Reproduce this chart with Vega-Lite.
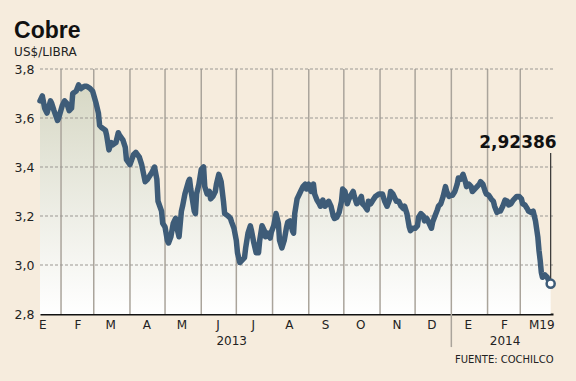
{
  "$schema": "https://vega.github.io/schema/vega-lite/v6.json",
  "width": 513,
  "height": 245,
  "autosize": {"type": "none"},
  "padding": {"left": 40, "top": 69, "right": 23, "bottom": 67},
  "background": "#f6ecdd",
  "title": {
    "text": "Cobre",
    "subtitle": "US$/LIBRA",
    "anchor": "start",
    "frame": "bounds",
    "font": "Liberation Sans",
    "fontSize": 23,
    "fontWeight": "bold",
    "color": "#111111",
    "subtitleFont": "DejaVu Sans",
    "subtitleFontSize": 12,
    "subtitleColor": "#222222",
    "subtitlePadding": 4,
    "offset": 5
  },
  "config": {
    "view": {"stroke": null},
    "font": "DejaVu Sans",
    "axis": {"labelOverlap": false, "labelFlush": false, "labelBound": false}
  },
  "datasets": {
    "precios": [
      {"fecha": "2013-01-14", "precio": 3.67}, {"fecha": "2013-01-16", "precio": 3.69}, {"fecha": "2013-01-18", "precio": 3.64},
      {"fecha": "2013-01-20", "precio": 3.62}, {"fecha": "2013-01-23", "precio": 3.67}, {"fecha": "2013-01-24", "precio": 3.66},
      {"fecha": "2013-01-26", "precio": 3.63}, {"fecha": "2013-01-29", "precio": 3.59}, {"fecha": "2013-01-30", "precio": 3.60},
      {"fecha": "2013-02-02", "precio": 3.65}, {"fecha": "2013-02-04", "precio": 3.67}, {"fecha": "2013-02-06", "precio": 3.66},
      {"fecha": "2013-02-08", "precio": 3.63}, {"fecha": "2013-02-10", "precio": 3.64}, {"fecha": "2013-02-11", "precio": 3.70},
      {"fecha": "2013-02-14", "precio": 3.71}, {"fecha": "2013-02-16", "precio": 3.735}, {"fecha": "2013-02-18", "precio": 3.72},
      {"fecha": "2013-02-21", "precio": 3.73}, {"fecha": "2013-02-23", "precio": 3.73}, {"fecha": "2013-02-26", "precio": 3.72},
      {"fecha": "2013-02-28", "precio": 3.71}, {"fecha": "2013-03-03", "precio": 3.66}, {"fecha": "2013-03-05", "precio": 3.62},
      {"fecha": "2013-03-06", "precio": 3.57}, {"fecha": "2013-03-08", "precio": 3.56}, {"fecha": "2013-03-11", "precio": 3.55},
      {"fecha": "2013-03-12", "precio": 3.53}, {"fecha": "2013-03-14", "precio": 3.47}, {"fecha": "2013-03-16", "precio": 3.50},
      {"fecha": "2013-03-17", "precio": 3.49}, {"fecha": "2013-03-20", "precio": 3.50}, {"fecha": "2013-03-22", "precio": 3.54},
      {"fecha": "2013-03-23", "precio": 3.53}, {"fecha": "2013-03-26", "precio": 3.51}, {"fecha": "2013-03-28", "precio": 3.48},
      {"fecha": "2013-03-29", "precio": 3.43}, {"fecha": "2013-04-01", "precio": 3.41}, {"fecha": "2013-04-04", "precio": 3.45},
      {"fecha": "2013-04-06", "precio": 3.46}, {"fecha": "2013-04-09", "precio": 3.44}, {"fecha": "2013-04-11", "precio": 3.41},
      {"fecha": "2013-04-14", "precio": 3.34}, {"fecha": "2013-04-16", "precio": 3.35}, {"fecha": "2013-04-20", "precio": 3.38},
      {"fecha": "2013-04-22", "precio": 3.40}, {"fecha": "2013-04-24", "precio": 3.35}, {"fecha": "2013-04-25", "precio": 3.26},
      {"fecha": "2013-04-28", "precio": 3.22}, {"fecha": "2013-04-29", "precio": 3.17}, {"fecha": "2013-05-01", "precio": 3.155},
      {"fecha": "2013-05-03", "precio": 3.10}, {"fecha": "2013-05-04", "precio": 3.09}, {"fecha": "2013-05-06", "precio": 3.115},
      {"fecha": "2013-05-08", "precio": 3.17}, {"fecha": "2013-05-10", "precio": 3.19}, {"fecha": "2013-05-11", "precio": 3.155},
      {"fecha": "2013-05-13", "precio": 3.115}, {"fecha": "2013-05-15", "precio": 3.22}, {"fecha": "2013-05-16", "precio": 3.24},
      {"fecha": "2013-05-18", "precio": 3.29}, {"fecha": "2013-05-21", "precio": 3.34}, {"fecha": "2013-05-22", "precio": 3.35},
      {"fecha": "2013-05-23", "precio": 3.31}, {"fecha": "2013-05-26", "precio": 3.22}, {"fecha": "2013-05-27", "precio": 3.21},
      {"fecha": "2013-05-28", "precio": 3.29}, {"fecha": "2013-05-30", "precio": 3.33}, {"fecha": "2013-06-01", "precio": 3.39},
      {"fecha": "2013-06-03", "precio": 3.40}, {"fecha": "2013-06-04", "precio": 3.32}, {"fecha": "2013-06-06", "precio": 3.29},
      {"fecha": "2013-06-08", "precio": 3.30}, {"fecha": "2013-06-09", "precio": 3.27}, {"fecha": "2013-06-11", "precio": 3.28},
      {"fecha": "2013-06-13", "precio": 3.30}, {"fecha": "2013-06-14", "precio": 3.33}, {"fecha": "2013-06-16", "precio": 3.37},
      {"fecha": "2013-06-18", "precio": 3.34}, {"fecha": "2013-06-20", "precio": 3.26}, {"fecha": "2013-06-21", "precio": 3.21},
      {"fecha": "2013-06-24", "precio": 3.20}, {"fecha": "2013-06-26", "precio": 3.19}, {"fecha": "2013-06-27", "precio": 3.175},
      {"fecha": "2013-06-29", "precio": 3.15}, {"fecha": "2013-07-01", "precio": 3.10}, {"fecha": "2013-07-02", "precio": 3.05},
      {"fecha": "2013-07-04", "precio": 3.01}, {"fecha": "2013-07-06", "precio": 3.02}, {"fecha": "2013-07-08", "precio": 3.03},
      {"fecha": "2013-07-09", "precio": 3.07}, {"fecha": "2013-07-11", "precio": 3.13}, {"fecha": "2013-07-13", "precio": 3.16},
      {"fecha": "2013-07-14", "precio": 3.14}, {"fecha": "2013-07-16", "precio": 3.09}, {"fecha": "2013-07-18", "precio": 3.05},
      {"fecha": "2013-07-20", "precio": 3.05}, {"fecha": "2013-07-21", "precio": 3.10}, {"fecha": "2013-07-23", "precio": 3.16},
      {"fecha": "2013-07-25", "precio": 3.14}, {"fecha": "2013-07-26", "precio": 3.115}, {"fecha": "2013-07-28", "precio": 3.13},
      {"fecha": "2013-07-30", "precio": 3.11}, {"fecha": "2013-07-31", "precio": 3.135}, {"fecha": "2013-08-02", "precio": 3.16},
      {"fecha": "2013-08-04", "precio": 3.21}, {"fecha": "2013-08-06", "precio": 3.17}, {"fecha": "2013-08-07", "precio": 3.10},
      {"fecha": "2013-08-09", "precio": 3.07}, {"fecha": "2013-08-11", "precio": 3.10}, {"fecha": "2013-08-13", "precio": 3.155},
      {"fecha": "2013-08-14", "precio": 3.175}, {"fecha": "2013-08-16", "precio": 3.18}, {"fecha": "2013-08-18", "precio": 3.14},
      {"fecha": "2013-08-19", "precio": 3.13}, {"fecha": "2013-08-20", "precio": 3.21}, {"fecha": "2013-08-22", "precio": 3.27},
      {"fecha": "2013-08-24", "precio": 3.29}, {"fecha": "2013-08-25", "precio": 3.30}, {"fecha": "2013-08-27", "precio": 3.32},
      {"fecha": "2013-08-29", "precio": 3.33}, {"fecha": "2013-08-30", "precio": 3.31}, {"fecha": "2013-09-01", "precio": 3.33},
      {"fecha": "2013-09-03", "precio": 3.30}, {"fecha": "2013-09-05", "precio": 3.33}, {"fecha": "2013-09-06", "precio": 3.29},
      {"fecha": "2013-09-08", "precio": 3.265}, {"fecha": "2013-09-10", "precio": 3.25}, {"fecha": "2013-09-11", "precio": 3.24},
      {"fecha": "2013-09-13", "precio": 3.265}, {"fecha": "2013-09-15", "precio": 3.24}, {"fecha": "2013-09-17", "precio": 3.25},
      {"fecha": "2013-09-18", "precio": 3.26}, {"fecha": "2013-09-20", "precio": 3.24}, {"fecha": "2013-09-22", "precio": 3.20},
      {"fecha": "2013-09-23", "precio": 3.19}, {"fecha": "2013-09-25", "precio": 3.195}, {"fecha": "2013-09-27", "precio": 3.215},
      {"fecha": "2013-09-29", "precio": 3.26}, {"fecha": "2013-09-30", "precio": 3.31}, {"fecha": "2013-10-02", "precio": 3.30},
      {"fecha": "2013-10-04", "precio": 3.25}, {"fecha": "2013-10-05", "precio": 3.265}, {"fecha": "2013-10-07", "precio": 3.285},
      {"fecha": "2013-10-09", "precio": 3.30}, {"fecha": "2013-10-10", "precio": 3.28}, {"fecha": "2013-10-12", "precio": 3.25},
      {"fecha": "2013-10-14", "precio": 3.26}, {"fecha": "2013-10-16", "precio": 3.28}, {"fecha": "2013-10-17", "precio": 3.25},
      {"fecha": "2013-10-19", "precio": 3.24}, {"fecha": "2013-10-21", "precio": 3.225}, {"fecha": "2013-10-22", "precio": 3.26},
      {"fecha": "2013-10-24", "precio": 3.25}, {"fecha": "2013-10-26", "precio": 3.265}, {"fecha": "2013-10-28", "precio": 3.28},
      {"fecha": "2013-10-31", "precio": 3.29}, {"fecha": "2013-11-03", "precio": 3.29}, {"fecha": "2013-11-05", "precio": 3.26},
      {"fecha": "2013-11-07", "precio": 3.24}, {"fecha": "2013-11-09", "precio": 3.265}, {"fecha": "2013-11-10", "precio": 3.30},
      {"fecha": "2013-11-12", "precio": 3.29}, {"fecha": "2013-11-14", "precio": 3.27}, {"fecha": "2013-11-15", "precio": 3.26},
      {"fecha": "2013-11-17", "precio": 3.26}, {"fecha": "2013-11-19", "precio": 3.24}, {"fecha": "2013-11-21", "precio": 3.23},
      {"fecha": "2013-11-22", "precio": 3.24}, {"fecha": "2013-11-24", "precio": 3.21}, {"fecha": "2013-11-26", "precio": 3.155},
      {"fecha": "2013-11-27", "precio": 3.14}, {"fecha": "2013-11-29", "precio": 3.15}, {"fecha": "2013-12-01", "precio": 3.15},
      {"fecha": "2013-12-03", "precio": 3.16}, {"fecha": "2013-12-04", "precio": 3.195}, {"fecha": "2013-12-06", "precio": 3.21},
      {"fecha": "2013-12-08", "precio": 3.20}, {"fecha": "2013-12-09", "precio": 3.18}, {"fecha": "2013-12-11", "precio": 3.19},
      {"fecha": "2013-12-13", "precio": 3.17}, {"fecha": "2013-12-15", "precio": 3.15}, {"fecha": "2013-12-16", "precio": 3.175},
      {"fecha": "2013-12-18", "precio": 3.20}, {"fecha": "2013-12-20", "precio": 3.225}, {"fecha": "2013-12-21", "precio": 3.24},
      {"fecha": "2013-12-23", "precio": 3.25}, {"fecha": "2013-12-25", "precio": 3.28}, {"fecha": "2013-12-27", "precio": 3.32},
      {"fecha": "2013-12-28", "precio": 3.30}, {"fecha": "2013-12-30", "precio": 3.28}, {"fecha": "2014-01-01", "precio": 3.285},
      {"fecha": "2014-01-02", "precio": 3.285}, {"fecha": "2014-01-04", "precio": 3.30}, {"fecha": "2014-01-06", "precio": 3.33},
      {"fecha": "2014-01-07", "precio": 3.355}, {"fecha": "2014-01-09", "precio": 3.35}, {"fecha": "2014-01-11", "precio": 3.37},
      {"fecha": "2014-01-13", "precio": 3.34}, {"fecha": "2014-01-14", "precio": 3.32}, {"fecha": "2014-01-16", "precio": 3.33},
      {"fecha": "2014-01-18", "precio": 3.32}, {"fecha": "2014-01-19", "precio": 3.30}, {"fecha": "2014-01-21", "precio": 3.31},
      {"fecha": "2014-01-23", "precio": 3.32}, {"fecha": "2014-01-25", "precio": 3.33}, {"fecha": "2014-01-26", "precio": 3.34},
      {"fecha": "2014-01-28", "precio": 3.33}, {"fecha": "2014-01-30", "precio": 3.30}, {"fecha": "2014-01-31", "precio": 3.29},
      {"fecha": "2014-02-02", "precio": 3.285}, {"fecha": "2014-02-04", "precio": 3.27}, {"fecha": "2014-02-06", "precio": 3.26},
      {"fecha": "2014-02-07", "precio": 3.24}, {"fecha": "2014-02-09", "precio": 3.215}, {"fecha": "2014-02-11", "precio": 3.22},
      {"fecha": "2014-02-12", "precio": 3.22}, {"fecha": "2014-02-14", "precio": 3.24}, {"fecha": "2014-02-16", "precio": 3.265},
      {"fecha": "2014-02-18", "precio": 3.26}, {"fecha": "2014-02-19", "precio": 3.245}, {"fecha": "2014-02-21", "precio": 3.25},
      {"fecha": "2014-02-23", "precio": 3.265}, {"fecha": "2014-02-24", "precio": 3.27}, {"fecha": "2014-02-26", "precio": 3.28},
      {"fecha": "2014-02-28", "precio": 3.28}, {"fecha": "2014-03-02", "precio": 3.27}, {"fecha": "2014-03-03", "precio": 3.25},
      {"fecha": "2014-03-05", "precio": 3.245}, {"fecha": "2014-03-07", "precio": 3.23}, {"fecha": "2014-03-08", "precio": 3.22},
      {"fecha": "2014-03-10", "precio": 3.215}, {"fecha": "2014-03-12", "precio": 3.22}, {"fecha": "2014-03-13", "precio": 3.20},
      {"fecha": "2014-03-14", "precio": 3.18}, {"fecha": "2014-03-16", "precio": 3.115}, {"fecha": "2014-03-17", "precio": 3.06},
      {"fecha": "2014-03-18", "precio": 3.02}, {"fecha": "2014-03-19", "precio": 2.97}, {"fecha": "2014-03-20", "precio": 2.95},
      {"fecha": "2014-03-22", "precio": 2.96}, {"fecha": "2014-03-24", "precio": 2.95}, {"fecha": "2014-03-26", "precio": 2.93},
      {"fecha": "2014-03-27", "precio": 2.92386}
    ],
    "meses": [
      {"fecha": "2013-02-01"}, {"fecha": "2013-03-01"}, {"fecha": "2013-04-01"}, {"fecha": "2013-05-01"},
      {"fecha": "2013-06-01"}, {"fecha": "2013-07-01"}, {"fecha": "2013-08-01"}, {"fecha": "2013-09-01"},
      {"fecha": "2013-10-01"}, {"fecha": "2013-11-01"}, {"fecha": "2013-12-01"}, {"fecha": "2014-01-01"},
      {"fecha": "2014-02-01"}, {"fecha": "2014-03-01"}
    ],
    "niveles": [{"valor": 3.0}, {"valor": 3.2}, {"valor": 3.4}, {"valor": 3.6}, {"valor": 3.8}],
    "ultimo": [{"fecha": "2014-03-27", "precio": 2.92386, "etiqueta": "2,92386"}],
    "anios": [{"fecha": "2013-06-27", "anio": "2013"}, {"fecha": "2014-02-16", "anio": "2014"}]
  },
  "layer": [
    {
      "data": {"name": "precios"},
      "mark": {
        "type": "area",
        "color": {
          "gradient": "linear", "x1": 0, "y1": 0, "x2": 0, "y2": 1,
          "stops": [{"offset": 0, "color": "#d7d8c5"}, {"offset": 1, "color": "#ffffff"}]
        }
      },
      "encoding": {
        "x": {
          "field": "fecha", "type": "temporal",
          "scale": {"type": "utc", "domain": [{"year": 2013, "month": 1, "date": 14, "utc": true}, {"year": 2014, "month": 3, "date": 29, "utc": true}]},
          "axis": {
            "orient": "bottom",
            "tickCount": 40,
            "values": [
              {"year": 2013, "month": 1, "date": 16, "utc": true}, {"year": 2013, "month": 2, "date": 15, "utc": true},
              {"year": 2013, "month": 3, "date": 15, "utc": true}, {"year": 2013, "month": 4, "date": 15, "utc": true},
              {"year": 2013, "month": 5, "date": 15, "utc": true}, {"year": 2013, "month": 6, "date": 15, "utc": true},
              {"year": 2013, "month": 7, "date": 15, "utc": true}, {"year": 2013, "month": 8, "date": 15, "utc": true},
              {"year": 2013, "month": 9, "date": 15, "utc": true}, {"year": 2013, "month": 10, "date": 15, "utc": true},
              {"year": 2013, "month": 11, "date": 15, "utc": true}, {"year": 2013, "month": 12, "date": 15, "utc": true},
              {"year": 2014, "month": 1, "date": 15, "utc": true}, {"year": 2014, "month": 2, "date": 15, "utc": true},
              {"year": 2014, "month": 3, "date": 19, "utc": true}
            ],
            "labelExpr": "utcdate(datum.value) == 19 ? 'M19' : ['E','F','M','A','M','J','J','A','S','O','N','D'][utcmonth(datum.value)]",
            "labelFont": "DejaVu Sans",
            "labelFontSize": 12,
            "labelColor": "#222222",
            "labelPadding": 5,
            "labelFlush": false,
            "labelOverlap": false,
            "labelSeparation": 0,
            "ticks": false,
            "grid": false,
            "domain": true,
            "domainColor": "#111111",
            "domainWidth": 2,
            "title": "FUENTE: COCHILCO",
            "titleFont": "DejaVu Sans",
            "titleFontSize": 10,
            "titleFontWeight": "normal",
            "titleColor": "#222222",
            "titleAnchor": "end",
            "titleAlign": "right",
            "titlePadding": 24
          }
        },
        "y": {
          "field": "precio", "type": "quantitative",
          "scale": {"domain": [2.8, 3.8], "zero": false, "nice": false},
          "axis": {
            "values": [2.8, 3.0, 3.2, 3.4, 3.6, 3.8],
            "tickCount": 20,
            "labelExpr": "replace(format(datum.value, '.1f'), '.', ',')",
            "labelFont": "DejaVu Sans",
            "labelFontSize": 12.5,
            "labelColor": "#222222",
            "labelPadding": 6,
            "ticks": false,
            "domain": false,
            "grid": false,
            "title": null
          }
        },
        "y2": {"datum": 2.8}
      }
    },
    {
      "data": {"name": "meses"},
      "mark": {"type": "rule", "color": "#aaa49b", "strokeWidth": 1.5},
      "encoding": {"x": {"field": "fecha", "type": "temporal"}}
    },
    {
      "data": {"name": "niveles"},
      "mark": {"type": "rule", "color": "#9b9893", "strokeWidth": 1, "strokeDash": [3, 2]},
      "encoding": {"y": {"field": "valor", "type": "quantitative"}}
    },
    {
      "data": {"name": "precios"},
      "mark": {"type": "line", "color": "#3e5c78", "strokeWidth": 5.5, "strokeJoin": "round", "strokeCap": "round"},
      "encoding": {
        "x": {"field": "fecha", "type": "temporal"},
        "y": {"field": "precio", "type": "quantitative"}
      }
    },
    {
      "data": {"name": "ultimo"},
      "mark": {"type": "rule", "color": "#333333", "strokeWidth": 1.2},
      "encoding": {
        "x": {"field": "fecha", "type": "temporal"},
        "y": {"field": "precio", "type": "quantitative"},
        "y2": {"datum": 3.457}
      }
    },
    {
      "data": {"name": "ultimo"},
      "mark": {"type": "point", "filled": true, "fill": "#ffffff", "stroke": "#3e5c78", "strokeWidth": 2.5, "size": 65, "opacity": 1},
      "encoding": {
        "x": {"field": "fecha", "type": "temporal"},
        "y": {"field": "precio", "type": "quantitative"}
      }
    },
    {
      "data": {"name": "ultimo"},
      "mark": {"type": "text", "font": "DejaVu Sans", "fontSize": 17, "fontWeight": "bold", "color": "#111111", "align": "right", "baseline": "alphabetic", "dx": 6},
      "encoding": {
        "x": {"field": "fecha", "type": "temporal"},
        "y": {"datum": 3.4776},
        "text": {"field": "etiqueta"}
      }
    },
    {
      "data": {"values": [{"fecha": "2014-01-01"}]},
      "mark": {"type": "rule", "color": "#aaa49b", "strokeWidth": 1.5},
      "encoding": {
        "x": {"field": "fecha", "type": "temporal"},
        "y": {"datum": 2.8},
        "y2": {"datum": 2.665}
      }
    },
    {
      "data": {"name": "anios"},
      "mark": {"type": "text", "font": "DejaVu Sans", "fontSize": 12, "color": "#222222", "align": "center", "baseline": "middle"},
      "encoding": {
        "x": {"field": "fecha", "type": "temporal"},
        "y": {"datum": 2.688},
        "text": {"field": "anio"}
      }
    }
  ]
}
